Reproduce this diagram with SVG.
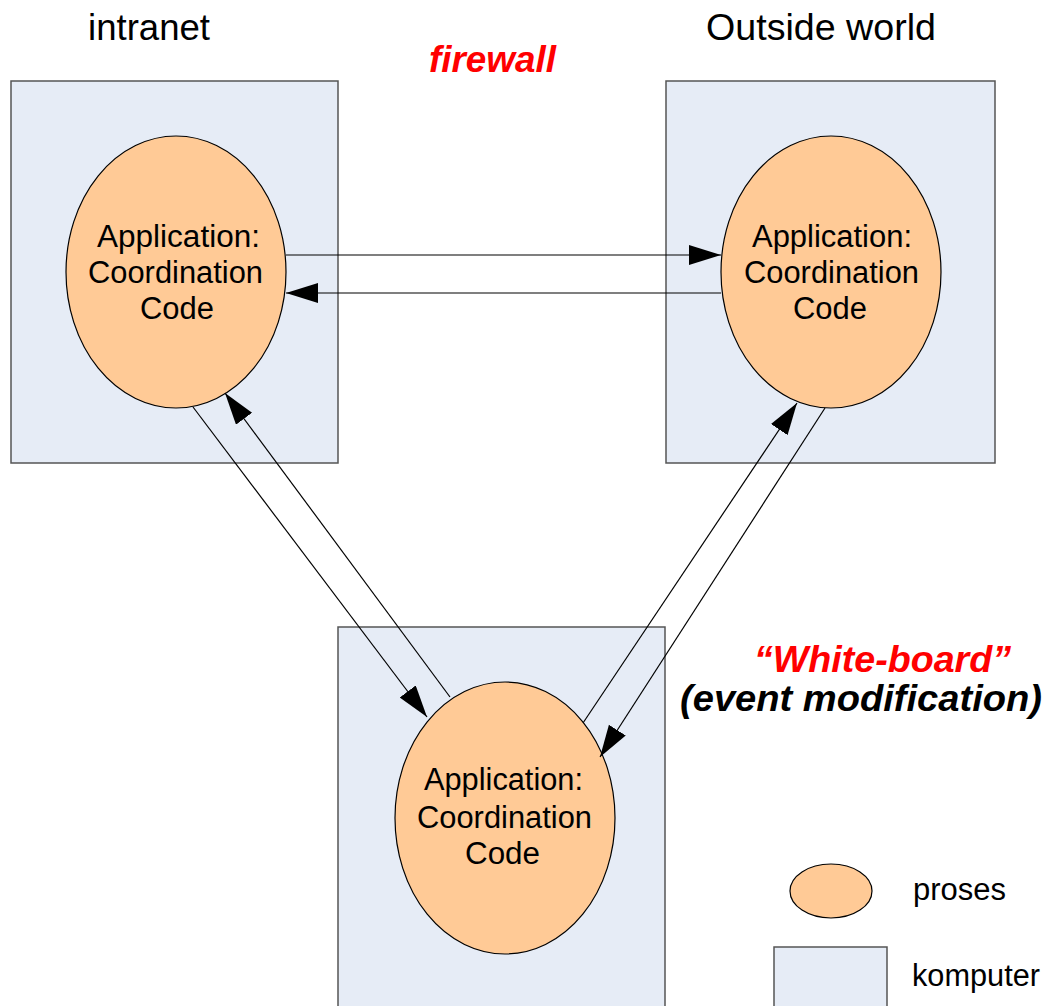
<svg xmlns="http://www.w3.org/2000/svg" width="1048" height="1006" viewBox="0 0 1048 1006">
<style>
.box{fill:#E6ECF6;stroke:#555;stroke-width:1.5}
.proc{fill:#FFCA96;stroke:#000;stroke-width:1.2}
.lbl{font-family:"Liberation Sans",Arial,sans-serif;font-size:31px;fill:#000}
.head{font-family:"Liberation Sans",Arial,sans-serif;font-size:37px;fill:#000}
.conn{stroke:#000;stroke-width:1.2;fill:none;marker-end:url(#arr)}
.em{font-family:"Liberation Sans",Arial,sans-serif;font-weight:bold;font-style:italic}
</style>
<defs>
<marker id="arr" markerUnits="userSpaceOnUse" markerWidth="34" markerHeight="22" refX="32" refY="10" orient="auto">
<path d="M0,0 L32,10 L0,20 Z" fill="#000"/>
</marker>
</defs>
<rect width="1048" height="1006" fill="#fff"/>
<text class="head" x="88" y="40" textLength="122" lengthAdjust="spacingAndGlyphs">intranet</text>
<text class="head" x="706" y="40" textLength="230" lengthAdjust="spacingAndGlyphs">Outside world</text>
<text class="em" x="429" y="72" font-size="36" fill="#FF0000" textLength="127" lengthAdjust="spacingAndGlyphs">firewall</text>
<g id="comp-intranet">
<rect class="box" x="11" y="81" width="327" height="382"/>
</g>
<g id="comp-outside">
<rect class="box" x="666" y="81" width="329" height="382"/>
</g>
<g id="comp-bottom">
<rect class="box" x="338" y="627" width="327" height="385"/>
</g>
<g id="proc-intranet">
<ellipse class="proc" cx="176" cy="272" rx="110" ry="136"/>
<text class="lbl" x="97" y="247" textLength="163" lengthAdjust="spacingAndGlyphs">Application:</text>
<text class="lbl" x="88" y="283" textLength="175" lengthAdjust="spacingAndGlyphs">Coordination</text>
<text class="lbl" x="140" y="319" textLength="74" lengthAdjust="spacingAndGlyphs">Code</text>
</g>
<g id="proc-outside">
<ellipse class="proc" cx="831" cy="272" rx="110" ry="136"/>
<text class="lbl" x="752" y="247" textLength="160" lengthAdjust="spacingAndGlyphs">Application:</text>
<text class="lbl" x="744" y="283" textLength="175" lengthAdjust="spacingAndGlyphs">Coordination</text>
<text class="lbl" x="793" y="319" textLength="74" lengthAdjust="spacingAndGlyphs">Code</text>
</g>
<g id="proc-bottom">
<ellipse class="proc" cx="505" cy="818" rx="110" ry="136"/>
<text class="lbl" x="424" y="790" textLength="159" lengthAdjust="spacingAndGlyphs">Application:</text>
<text class="lbl" x="417" y="828" textLength="175" lengthAdjust="spacingAndGlyphs">Coordination</text>
<text class="lbl" x="465" y="864" textLength="75" lengthAdjust="spacingAndGlyphs">Code</text>
</g>
<g id="connectors">
<line class="conn" x1="286" y1="255" x2="721" y2="255"/>
<line class="conn" x1="721" y1="293" x2="286" y2="293"/>
<line class="conn" x1="193" y1="407" x2="427" y2="717"/>
<line class="conn" x1="450" y1="697" x2="225" y2="393"/>
<line class="conn" x1="583" y1="723" x2="797" y2="403"/>
<line class="conn" x1="825" y1="408" x2="600" y2="757"/>
</g>
<text class="em" x="754" y="672" font-size="37" fill="#FF0000" textLength="257" lengthAdjust="spacingAndGlyphs">“White-board”</text>
<text class="em" x="680" y="711" font-size="36" fill="#000" textLength="362" lengthAdjust="spacingAndGlyphs">(event modification)</text>
<g id="legend">
<ellipse class="proc" cx="831" cy="891" rx="41" ry="27"/>
<text class="lbl" x="913" y="900" font-size="30" textLength="93" lengthAdjust="spacingAndGlyphs">proses</text>
<rect class="box" x="774" y="947" width="113" height="65"/>
<text class="lbl" x="912" y="986" font-size="30" textLength="128" lengthAdjust="spacingAndGlyphs">komputer</text>
</g>
</svg>
